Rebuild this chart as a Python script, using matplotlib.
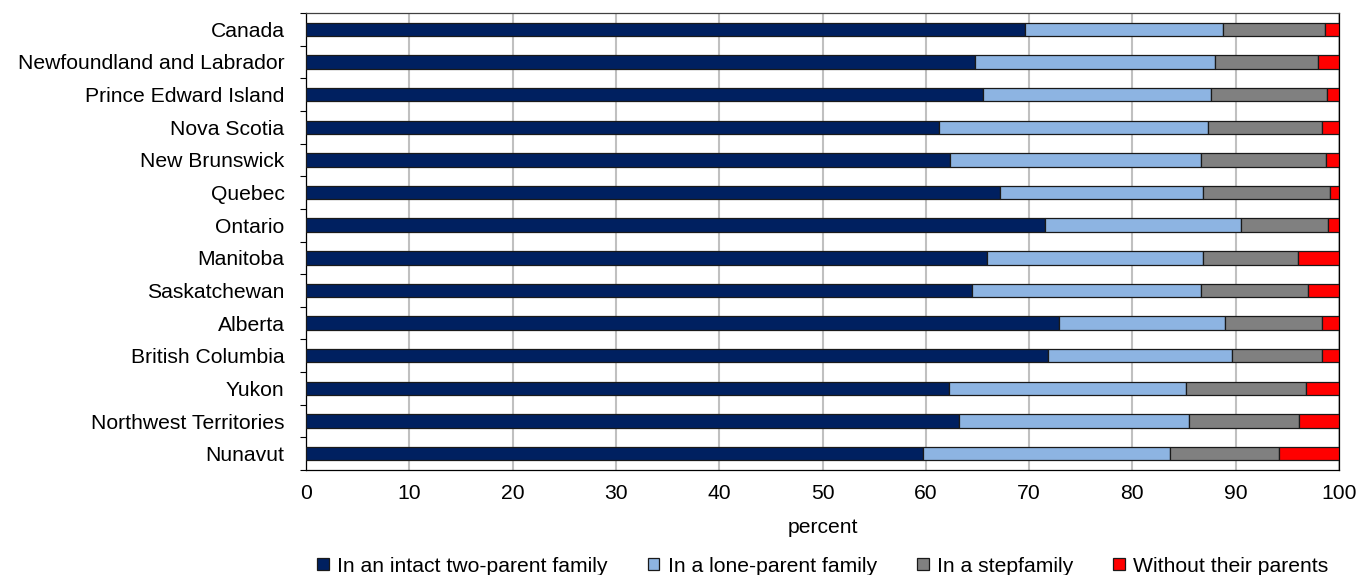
import matplotlib
matplotlib.use("Agg")
import matplotlib.pyplot as plt
import numpy as np

plt.rcParams['font.family'] = ['Liberation Sans', 'DejaVu Sans']

categories = ["Canada", "Newfoundland and Labrador", "Prince Edward Island", "Nova Scotia",
              "New Brunswick", "Quebec", "Ontario", "Manitoba", "Saskatchewan", "Alberta",
              "British Columbia", "Yukon", "Northwest Territories", "Nunavut"]
intact = [69.6, 64.8, 65.5, 61.3, 62.3, 67.2, 71.5, 65.9, 64.5, 72.9, 71.8, 62.2, 63.2, 59.7]
lone = [19.2, 23.2, 22.1, 26.0, 24.3, 19.6, 19.0, 20.9, 22.1, 16.1, 17.8, 23.0, 22.3, 23.9]
step = [9.8, 10.0, 11.2, 11.1, 12.1, 12.3, 8.4, 9.2, 10.4, 9.4, 8.8, 11.6, 10.6, 10.6]
without = [1.4, 2.0, 1.2, 1.6, 1.3, 0.9, 1.1, 4.0, 3.0, 1.6, 1.6, 3.2, 3.9, 5.8]
series_names = ["In an intact two-parent family", "In a lone-parent family",
                "In a stepfamily", "Without their parents"]
colors = ["#002060", "#8DB4E2", "#808080", "#FF0000"]
xticks = [0, 10, 20, 30, 40, 50, 60, 70, 80, 90, 100]

FS = 15.2
fig = plt.figure(figsize=(13.56, 5.75), dpi=100)
ax = fig.add_axes([306/1356, 1-470/575, 1033/1356, 457/575])

y = np.arange(len(categories))
left = np.zeros(len(categories))
for vals, name, c in zip([intact, lone, step, without], series_names, colors):
    ax.barh(y, vals, left=left, height=0.41, color=c, edgecolor="#1a1a1a",
            linewidth=0.9, label=name, zorder=3)
    left = left + np.array(vals)

ax.set_xlim(0, 100)
ax.set_ylim(len(categories) - 0.5, -0.5)
ax.set_xticks(xticks)
ax.set_xticklabels([str(t) for t in xticks], fontsize=FS)
ax.set_yticks(y)
ax.set_yticklabels(categories, fontsize=FS)
ax.tick_params(axis='y', which='major', length=0, pad=15.5)
ax.set_yticks(np.arange(-0.5, len(categories), 1), minor=True)
ax.tick_params(axis='y', which='minor', length=4, width=0.8, color="black")
ax.tick_params(axis='x', length=0, pad=10)
ax.grid(axis='x', color="#c0c0c0", linewidth=1.5, zorder=0)
for s in ax.spines.values():
    s.set_color("black")
    s.set_linewidth(0.9)
ax.spines['top'].set_color("#404040")
ax.set_xlabel("percent", fontsize=FS, labelpad=11)

handles, labels = ax.get_legend_handles_labels()
fig.legend(handles, labels, loc="center", bbox_to_anchor=(0.6068, 1-566/575), ncol=4,
           frameon=False, fontsize=FS, handlelength=0.55, handleheight=0.55,
           columnspacing=1.9, handletextpad=0.4, borderaxespad=0, borderpad=0)

fig.savefig("out.png", dpi=100, facecolor="white")
